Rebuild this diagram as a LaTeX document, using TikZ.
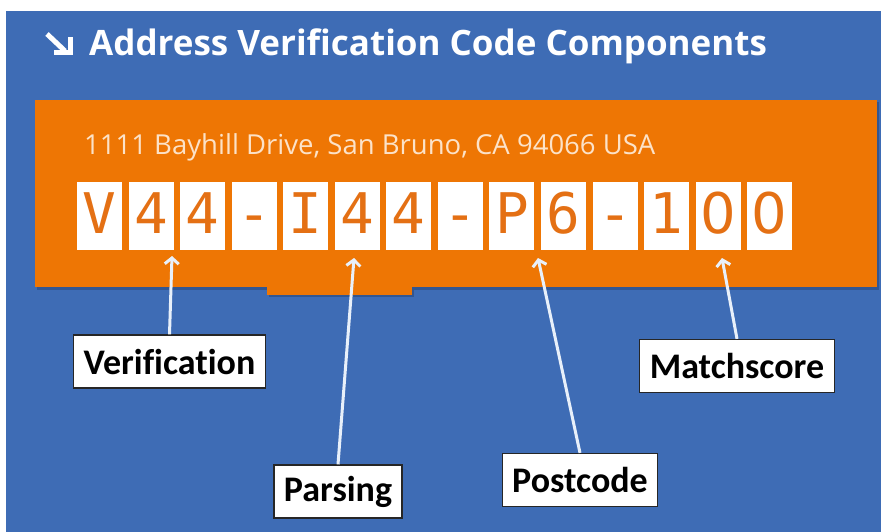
\documentclass[tikz,border=0pt]{standalone}
\usepackage{fontspec}
\setmainfont{Carlito}[Ligatures=NoCommon]
\newfontfamily\titlefont{Open Sans}
\newfontfamily\codefont{DejaVu Sans Mono}
\newfontfamily\zerofont{DejaVu Sans}
\usetikzlibrary{arrows.meta}

\definecolor{bgblue}{RGB}{62,108,181}
\definecolor{avorange}{RGB}{238,118,4}
\definecolor{codeorange}{RGB}{228,112,20}
\definecolor{addrtext}{RGB}{252,226,200}
\definecolor{arrowwhite}{RGB}{232,240,250}

\newcommand\plainzero{{\zerofont 0}}

\begin{document}
\begin{tikzpicture}[x=1pt, y=-1pt,
    codebox/.style={fill=white, minimum width=45pt, minimum height=68pt, inner sep=0pt,
        text height=34pt, text depth=0pt,
        text=codeorange, font=\codefont\fontsize{56}{56}\selectfont},
    partlabel/.style={fill=white, draw=black!85, line width=1.2pt, minimum height=53pt,
        inner xsep=10pt, font=\bfseries\fontsize{36}{36}\selectfont},
    pointer/.style={draw=arrowwhite, line width=3pt,
        -{Straight Barb[length=6pt, width=14pt]}}]

    \useasboundingbox (0,0) rectangle (881,532);

    % Background
    \fill[white] (0,0) rectangle (881,532);
    \fill[bgblue] (6,11) rectangle (881,532);

    % Title
    \draw[white, line width=5pt] (47,34) -- (65,51);
    \draw[white, line width=5pt] (54,53) -- (70,53) -- (70,37);
    \node[anchor=base west, text=white, inner sep=0pt,
        font=\titlefont\bfseries\fontsize{35}{35}\selectfont] (title) at (89,56)
        {Address Verification Code Components};

    % Orange panel
    \fill[black!20!bgblue] (37,102) rectangle (879,290);
    \fill[black!20!bgblue] (269,290) rectangle (414,297);
    \fill[avorange] (35,100) rectangle (877,287);
    \fill[avorange] (267,280) rectangle (412,295);

    % Address line
    \node[anchor=base west, text=addrtext, inner sep=0pt,
        font=\titlefont\fontsize{27.5}{27.5}\selectfont] (addr) at (84,154)
        {1111 Bayhill Drive, San Bruno, CA 94066 USA};

    % Code characters
    \foreach \ch [count=\i] in {V,4,4,-,I,4,4,-,P,6,-,1,\plainzero,\plainzero}
        \node[codebox] (c\i) at ({99.5+51.55*(\i-1)},216) {\ch};

    % Where the arrows point
    \coordinate (tipV) at (172,256);
    \coordinate (tipP) at (354,258);
    \coordinate (tipC) at (538,258);
    \coordinate (tipM) at (722,258);

    % Component labels
    \node[partlabel] (verif) at (169.5,361.5) {Verification};
    \node[partlabel] (pars) at (338,491.5) {Parsing};
    \node[partlabel] (post) at (580,480) {Postcode};
    \node[partlabel] (match) at (737,366) {Matchscore};

    % Arrows
    \draw[pointer] (verif.north) -- (tipV);
    \draw[pointer] (pars.north) -- (tipP);
    \draw[pointer] (post.north) -- (tipC);
    \draw[pointer] (match.north) -- (tipM);
\end{tikzpicture}
\end{document}
